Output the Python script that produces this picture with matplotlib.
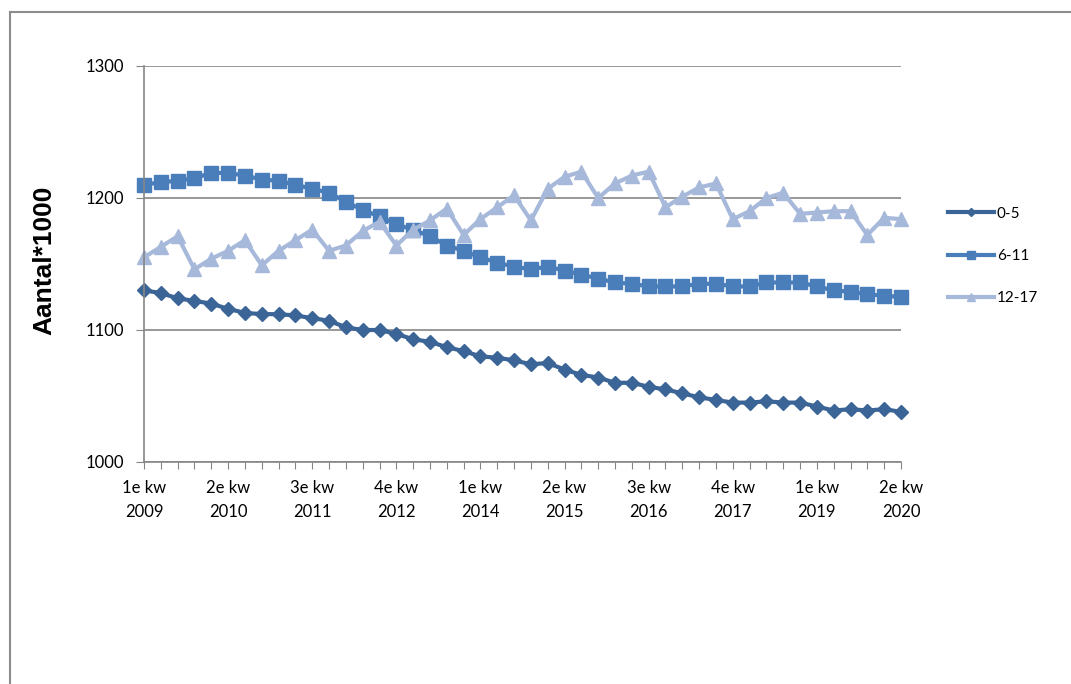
import matplotlib.pyplot as plt
from matplotlib.lines import Line2D

plt.rcParams['font.family'] = ['Lato', 'DejaVu Sans']

# quarterly data, 1e kw 2009 .. 2e kw 2020
quarters = [f"{q}e kw\n{y}" for y in range(2009, 2021) for q in range(1, 5)][:46]

age_0_5 = [1130, 1128, 1124, 1122, 1120, 1116, 1113, 1112, 1112, 1111,
           1109, 1107, 1102, 1100, 1100, 1097, 1093, 1091, 1087, 1084,
           1080, 1079, 1077, 1074, 1075, 1070, 1066, 1064, 1060, 1060,
           1057, 1055, 1052, 1049, 1047, 1045, 1045, 1046, 1045, 1045,
           1042, 1039, 1040, 1039, 1040, 1038]
age_6_11 = [1210, 1212, 1213, 1215, 1219, 1219, 1217, 1214, 1213, 1210,
            1207, 1204, 1197, 1191, 1186, 1180, 1176, 1171, 1164, 1160,
            1155, 1151, 1148, 1146, 1148, 1145, 1142, 1139, 1136, 1135,
            1133, 1133, 1133, 1135, 1135, 1133, 1133, 1136, 1136, 1136,
            1133, 1130, 1129, 1127, 1126, 1125]
age_12_17 = [1155, 1163, 1171, 1146, 1154, 1160, 1168, 1149, 1160, 1168,
             1176, 1160, 1164, 1175, 1182, 1164, 1176, 1183, 1192, 1172,
             1184, 1193, 1202, 1183, 1207, 1216, 1220, 1200, 1211, 1217,
             1220, 1193, 1201, 1208, 1211, 1184, 1190, 1200, 1204, 1188,
             1189, 1190, 1190, 1172, 1185, 1184]

labels = ["0-5", "6-11", "12-17"]
colors = ["#3B6497", "#4A7EBB", "#A7B9DA"]
markers = ["D", "s", "^"]
msizes = [7.5, 10, 10]

fig = plt.figure(figsize=(10.71, 6.84), dpi=100)
ax = fig.add_axes([144 / 1071, 1 - 462 / 684, 757 / 1071, 396 / 684])

x = list(range(len(quarters)))
for data, lab, c, m, ms in zip([age_0_5, age_6_11, age_12_17], labels, colors, markers, msizes):
    ax.plot(x, data, color=c, lw=3, marker=m, markersize=ms, label=lab,
            markeredgecolor=c, clip_on=False)

ax.set_xlim(0, len(quarters) - 1)
ax.set_ylim(1000, 1300)
ax.set_yticks([1000, 1100, 1200, 1300])
ax.set_xticks(x)
ax.set_xticklabels([q if i % 5 == 0 else "" for i, q in enumerate(quarters)],
                   fontsize=12, linespacing=1.6)
ax.tick_params(axis='x', length=5, color='#868686', pad=8)
ax.tick_params(axis='y', length=6, color='#868686', labelsize=12, pad=8)
ax.grid(axis='y', color='#868686', lw=1.2)
ax.set_axisbelow(True)
for s in ['top', 'right']:
    ax.spines[s].set_visible(False)
for s in ['left', 'bottom']:
    ax.spines[s].set_color('#868686')
    ax.spines[s].set_linewidth(1.2)

fig.text(44 / 1071, 1 - 260 / 684, "Aantal*1000", rotation=90, fontsize=19,
         fontweight='bold', family=['Liberation Sans', 'DejaVu Sans'],
         ha='center', va='center')

fig.legend(loc='center left', bbox_to_anchor=(948 / 1071, 1 - 256 / 684),
           frameon=False, fontsize=11, handlelength=3.0, handletextpad=0.2,
           labelspacing=1.85, borderpad=0, borderaxespad=0, markerscale=0.55)

# chart border
fig.add_artist(Line2D([10 / 1071, 10 / 1071], [0, 1 - 12 / 684], color='#8C8C8C', lw=1.5))
fig.add_artist(Line2D([10 / 1071, 1], [1 - 12 / 684, 1 - 12 / 684], color='#8C8C8C', lw=1.5))

fig.savefig("out.png", dpi=100)
